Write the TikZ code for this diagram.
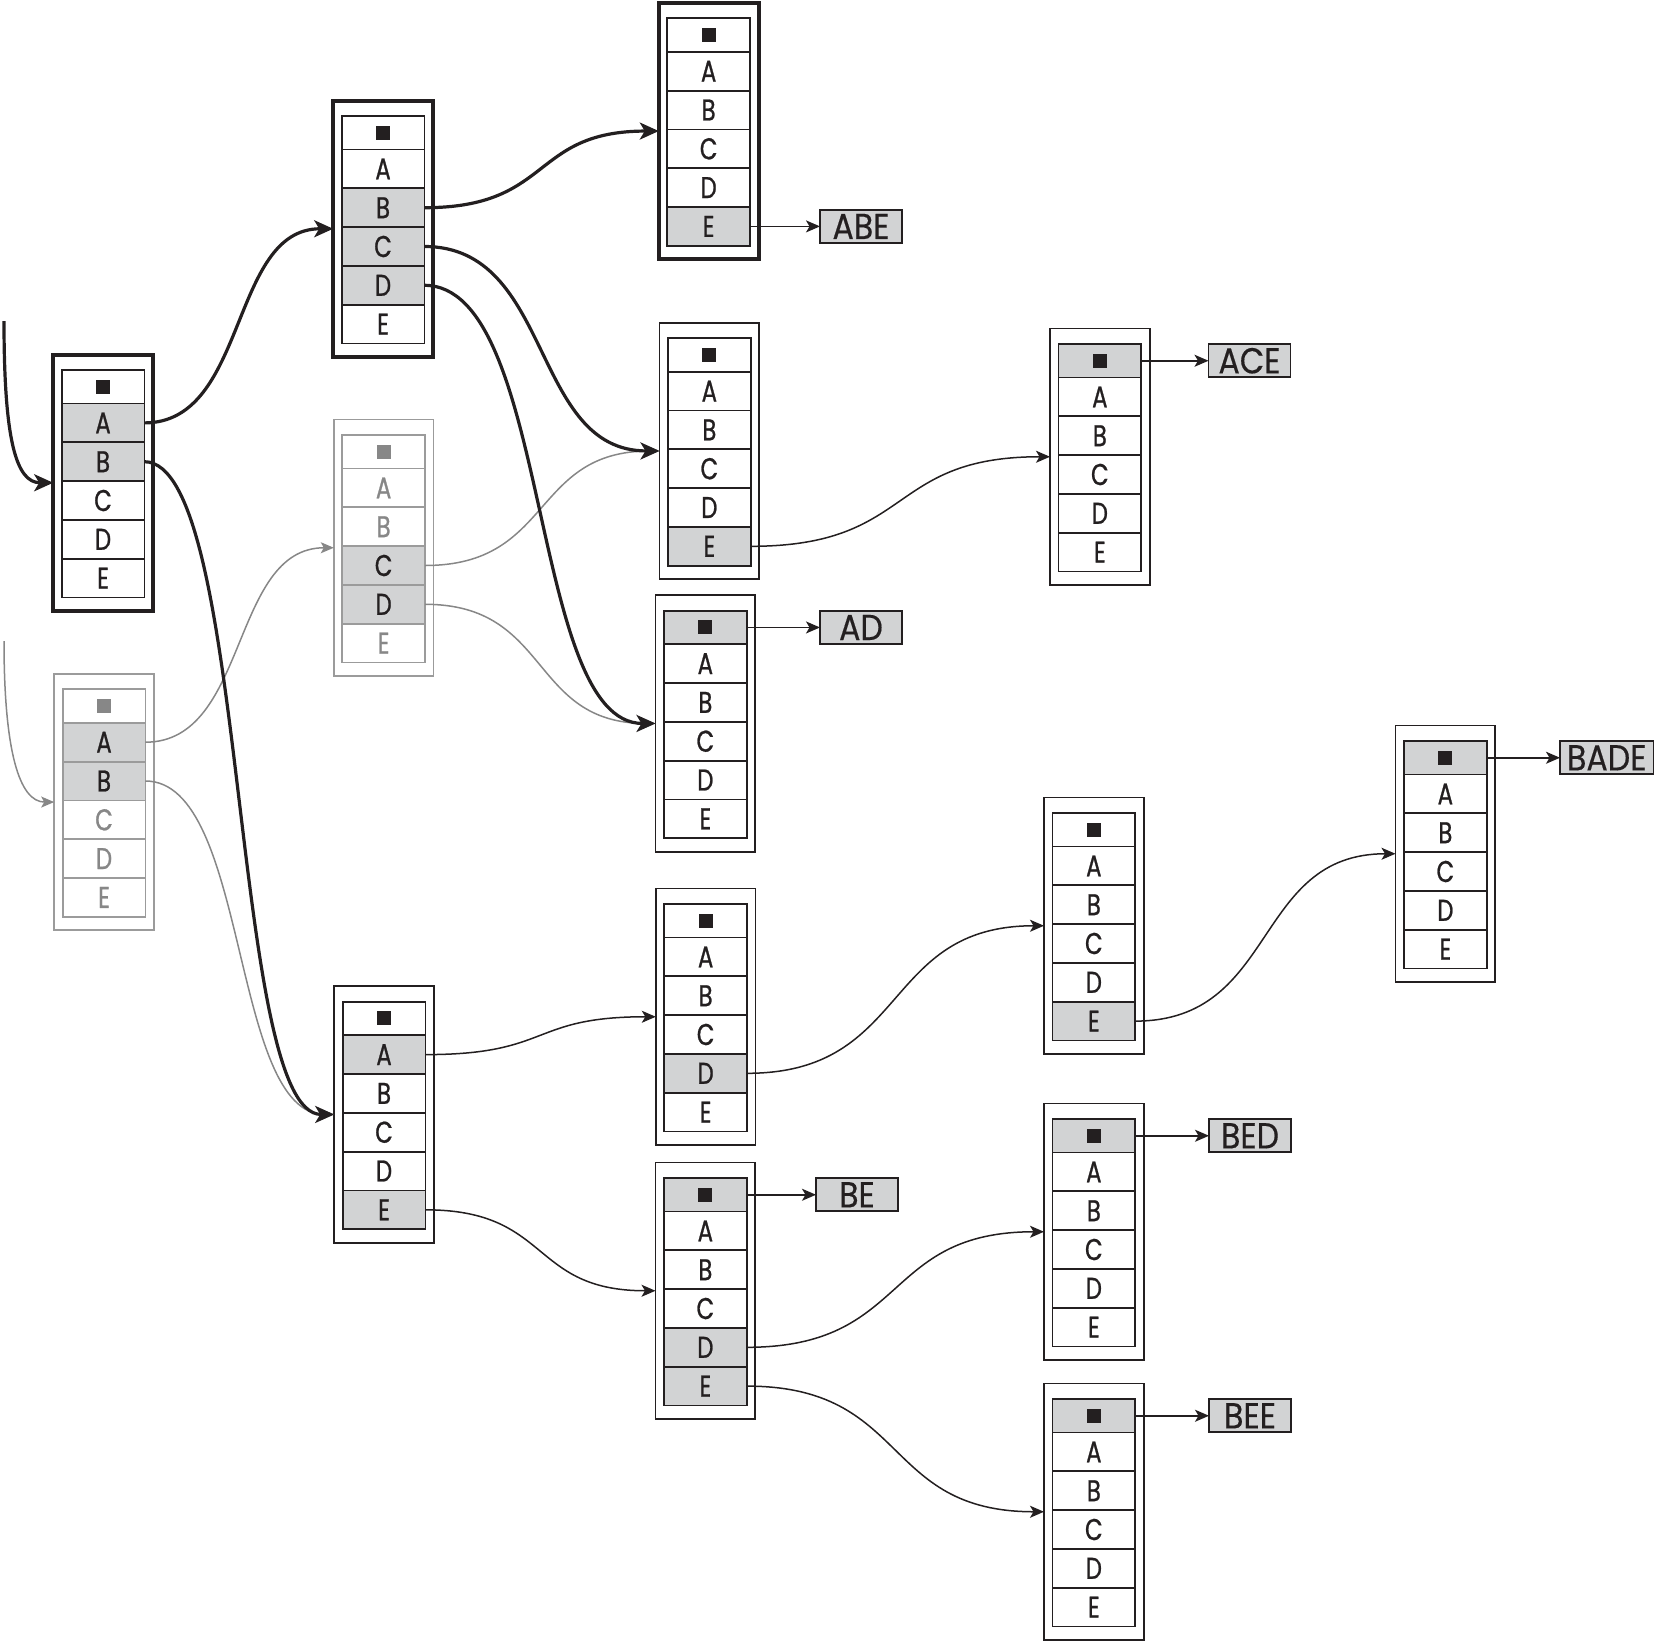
\documentclass[tikz,border=0pt]{standalone}
\usepackage{fontspec}
\usetikzlibrary{arrows.meta,calc,fit}
\newfontfamily\cellfont[FakeStretch=0.76,FakeBold=0.8]{Poppins}
\newfontfamily\lblfont[FakeStretch=0.88,FakeBold=0.4]{Poppins}
\definecolor{ink}{RGB}{35,31,32}
\definecolor{hl}{RGB}{210,211,212}
\definecolor{lg}{RGB}{155,155,155}
\definecolor{lgt}{RGB}{135,135,135}
\tikzset{
  cellN/.style={draw=ink, line width=1.8pt, fill=white, text=ink,
    minimum width=82.7pt, minimum height=38.8pt, inner sep=0pt, outer sep=0pt,
    anchor=north west, font=\cellfont\fontsize{30pt}{32pt}\selectfont},
  cellH/.style={cellN, fill=hl},
  gcellN/.style={cellN, draw=lg, text=lgt},
  gcellH/.style={cellN, draw=lg, fill=hl},
  outerT/.style={draw=ink, line width=4pt, inner sep=0pt, outer sep=0pt},
  outerN/.style={draw=ink, line width=1.8pt, inner sep=0pt, outer sep=0pt},
  outerG/.style={draw=lg, line width=1.8pt, inner sep=0pt, outer sep=0pt},
  lbl/.style={draw=ink, line width=1.6pt, fill=hl, text=ink, anchor=west,
    minimum width=82pt, minimum height=33pt, inner xsep=7pt, inner ysep=0pt,
    outer sep=0pt, font=\lblfont\fontsize{36pt}{38pt}\selectfont},
  thickedge/.style={draw=ink, line width=3.2pt, -{Stealth[length=19pt,width=17pt,inset=5pt]}},
  thinedge/.style={draw=ink, line width=1.5pt, -{Stealth[length=14pt,width=12pt,inset=3.5pt]}},
  grayedge/.style={draw=lgt, line width=1.5pt, -{Stealth[length=13pt,width=11pt,inset=3pt]}},
}
% #1 name, #2 inner top-left, #3 outer style, #4 cell overrides
\newcommand\stackbox[4]{%
  \begin{scope}[N/.style={cellN}, H/.style={cellH},
    k0/.style={N}, k1/.style={N}, k2/.style={N}, k3/.style={N}, k4/.style={N}, k5/.style={N}, #4]
    \node[k0, minimum height=33.5pt] (#1-0) at (#2) {\rule{14pt}{14pt}};
    \node[k1] (#1-A) at (#1-0.south west) {A};
    \node[k2] (#1-B) at (#1-A.south west) {B};
    \node[k3] (#1-C) at (#1-B.south west) {C};
    \node[k4] (#1-D) at (#1-C.south west) {D};
    \node[k5] (#1-E) at (#1-D.south west) {E};
    \coordinate (#1-tl) at ([xshift=-8.5pt,yshift=15.5pt]#1-0.north west);
    \coordinate (#1-br) at ([xshift=8.5pt,yshift=-13.5pt]#1-E.south east);
    \node[#3, fit={(#1-tl) (#1-br)}] (#1) {};
  \end{scope}}
% #1 style, #2 from, #3 to
\newcommand\conn[3]{%
  \draw[#1] let \p1=(#2), \p2=(#3), \n1={0.55*(\x2-\x1)} in
    (\p1) .. controls +(\n1,0) and +(-\n1,0) .. (\p2);}
\begin{document}
\begin{tikzpicture}[x=1pt, y=-1pt]
\useasboundingbox (0,0) rectangle (1657,1641);
% boxes
\stackbox{R1}{61.7,370}{outerT}{k1/.style={H}, k2/.style={H}}
\stackbox{R2}{62.7,689.3}{outerG}{N/.style={gcellN}, H/.style={gcellH}, k1/.style={H}, k2/.style={H}}
\stackbox{L2a}{341.7,116}{outerT}{k2/.style={H}, k3/.style={H}, k4/.style={H}}
\stackbox{L2b}{342.3,435}{outerG}{N/.style={gcellN}, H/.style={gcellH}, k3/.style={H}, k4/.style={H}}
\stackbox{L2c}{342.7,1001.7}{outerN}{k1/.style={H}, k5/.style={H}}
\stackbox{N1}{667.3,18.3}{outerT}{k5/.style={H}}
\stackbox{N2}{668,338.2}{outerN}{k5/.style={H}}
\stackbox{N3}{664,610.7}{outerN}{k0/.style={H}}
\stackbox{N4}{664.3,904}{outerN}{k4/.style={H}}
\stackbox{N5}{664,1178}{outerN}{k0/.style={H}, k4/.style={H}, k5/.style={H}}
\stackbox{M1}{1058.5,344}{outerN}{k0/.style={H}}
\stackbox{M2}{1052.5,813}{outerN}{k5/.style={H}}
\stackbox{M3}{1052.5,1119}{outerN}{k0/.style={H}}
\stackbox{M4}{1052.5,1399}{outerN}{k0/.style={H}}
\stackbox{Q1}{1404,741}{outerN}{k0/.style={H}}
% result labels
\node[lbl] (lABE) at (820,0 |- N1-E) {ABE};
\node[lbl] (lAD) at (820,0 |- N3-0) {AD};
\node[lbl] (lACE) at (1208.5,0 |- M1-0) {ACE};
\node[lbl] (lBE) at (816,0 |- N5-0) {BE};
\node[lbl] (lBED) at (1209,0 |- M3-0) {BED};
\node[lbl] (lBEE) at (1209,0 |- M4-0) {BEE};
\node[lbl] (lBADE) at (1560,0 |- Q1-0) {BADE};
% free starts
\coordinate (in0) at (4,321);
\coordinate (in1) at (4,641);
% gray (abandoned) edges
\draw[grayedge] (in1) .. controls +(0,110) and +(-35,0) .. (R2.west);
\conn{grayedge}{R2-A.east}{L2b.west}
\conn{grayedge}{R2-B.east}{L2c.west}
\conn{grayedge}{L2b-C.east}{N2.west}
\conn{grayedge}{L2b-D.east}{N3.west}
% thick edges
\draw[thickedge] (in0) .. controls +(0,120) and +(-37,0) .. (R1.west);
\conn{thickedge}{R1-A.east}{L2a.west}
\conn{thickedge}{R1-B.east}{L2c.west}
\conn{thickedge}{L2a-B.east}{N1.west}
\conn{thickedge}{L2a-C.east}{N2.west}
\conn{thickedge}{L2a-D.east}{N3.west}
% thin edges
\conn{thinedge}{N2-E.east}{M1.west}
\conn{thinedge}{L2c-A.east}{N4.west}
\conn{thinedge}{L2c-E.east}{N5.west}
\conn{thinedge}{N4-D.east}{M2.west}
\conn{thinedge}{M2-E.east}{Q1.west}
\conn{thinedge}{N5-D.east}{M3.west}
\conn{thinedge}{N5-E.east}{M4.west}
% label arrows
\draw[thinedge] (N1-E.east) -- (lABE.west);
\draw[thinedge] (N3-0.east) -- (lAD.west);
\draw[thinedge] (M1-0.east) -- (lACE.west);
\draw[thinedge] (N5-0.east) -- (lBE.west);
\draw[thinedge] (M3-0.east) -- (lBED.west);
\draw[thinedge] (M4-0.east) -- (lBEE.west);
\draw[thinedge] (Q1-0.east) -- (lBADE.west);
\end{tikzpicture}
\end{document}
